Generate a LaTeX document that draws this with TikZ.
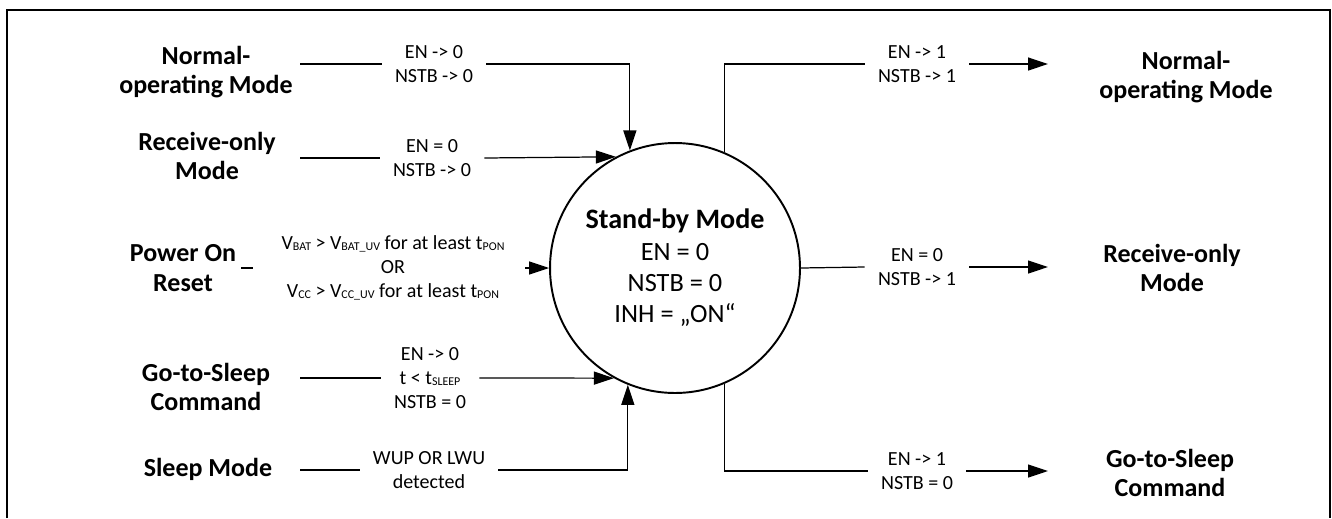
\documentclass[tikz,border=0pt]{standalone}
\usepackage{fontspec}
\setmainfont{Carlito}
\usepackage{tikz}
\usetikzlibrary{shapes,arrows.meta,calc}
\newcommand{\lowsub}[1]{\raisebox{-0.1ex}{\fontsize{6.8}{8}\selectfont #1}}

\begin{document}
\begin{tikzpicture}[x=0.02cm, y=-0.02cm,
    mode_label/.style ={align=center, inner sep=0pt,
      font=\fontsize{14.8}{16.6}\selectfont\bfseries},
    trans_label/.style ={align=center, inner xsep=0.26cm, inner ysep=0pt,
      font=\fontsize{11.4}{13.6}\selectfont},
    state_circle/.style ={circle, draw=black, line width=1.1pt,
      minimum size=5cm, inner sep=0pt, align=center,
      font=\fontsize{15}{17.8}\selectfont},
    conn/.style ={draw, line width=0.7pt},
    line/.style ={conn, -{Triangle[length=0.4cm, width=0.26cm]}}]
    \useasboundingbox (0,0) rectangle (1332,518);
    % open frame round the picture
    \draw[line width=1.1pt] (7,518) |- (1330,10) -- (1330,518);
    % stand-by state
    \node [state_circle] (sb) at (675,268)
      {{\fontsize{16}{17.8}\selectfont\bfseries Stand-by Mode}\\EN = 0\\NSTB = 0\\INH = „ON“};
    % modes coming in
    \node [mode_label] (in_norm)  at (206,72)  {Normal-\\operating Mode};
    \node [mode_label] (in_recv)  at (207,156) {Receive-only\\Mode};
    \node [mode_label] (in_por)   at (183,268) {Power On\\Reset};
    \node [mode_label] (in_gts)   at (206,387) {Go-to-Sleep\\Command};
    \node [mode_label] (in_sleep) at (208,469) {Sleep Mode};
    \node [trans_label] (t_norm)  at (434,64)  {EN -> 0\\NSTB -> 0};
    \node [trans_label] (t_recv)  at (432,158) {EN = 0\\NSTB -> 0};
    \node [trans_label] (t_por)   at (393,268)
      {V\lowsub{BAT} > V\lowsub{BAT\_UV} for at least t\lowsub{PON}\\OR\\
       V\lowsub{CC} > V\lowsub{CC\_UV} for at least t\lowsub{PON}};
    \node [trans_label] (t_gts)   at (430,378) {EN -> 0\\t < t\lowsub{SLEEP}\\NSTB = 0};
    \node [trans_label] (t_sleep) at (429,470) {WUP OR LWU\\detected};
    % modes going out
    \node [trans_label] (t_onorm)  at (917,64)  {EN -> 1\\NSTB -> 1};
    \node [trans_label] (t_orecv)  at (917,267) {EN = 0\\NSTB -> 1};
    \node [trans_label] (t_osleep) at (917,471) {EN -> 1\\NSTB = 0};
    \node [mode_label] (out_norm)  at (1186,77)  {Normal-\\operating Mode};
    \node [mode_label] (out_recv)  at (1172,268) {Receive-only\\Mode};
    \node [mode_label] (out_sleep) at (1170,473) {Go-to-Sleep\\Command};
    \coordinate (lx) at (300,0);
    \coordinate (rx) at (1048,0);
    % connecting nodes with paths
    \begin{scope}[every path/.style=conn]
      \path (lx |- t_norm.west) -- (t_norm.west);
      \path (lx |- t_recv.west) -- (t_recv.west);
      \path ($(in_por.east)+(5,0)$) -- ++(12,0);
      \path (lx |- t_gts.west) -- (t_gts.west);
      \path (lx |- t_sleep.west) -- (t_sleep.west);
      \path (sb.67) |- (t_onorm.west);
      \path (sb.east) -- (t_orecv.west);
      \path (sb.293) |- (t_osleep.west);
    \end{scope}
    \begin{scope}[every path/.style=line]
      \path (t_norm.east) -| (sb.111.1);
      \path (t_recv.east) -- (sb.118.4);
      \path ($(sb.west)+(-24,0)$) -- (sb.west);
      \path (t_gts.east) -- (sb.241.6);
      \path (t_sleep.east) -| (sb.248.9);
      \path (t_onorm.east) -- (t_onorm.east -| rx);
      \path (t_orecv.east) -- (t_orecv.east -| rx);
      \path (t_osleep.east) -- (t_osleep.east -| rx);
    \end{scope}
\end{tikzpicture}
\end{document}
